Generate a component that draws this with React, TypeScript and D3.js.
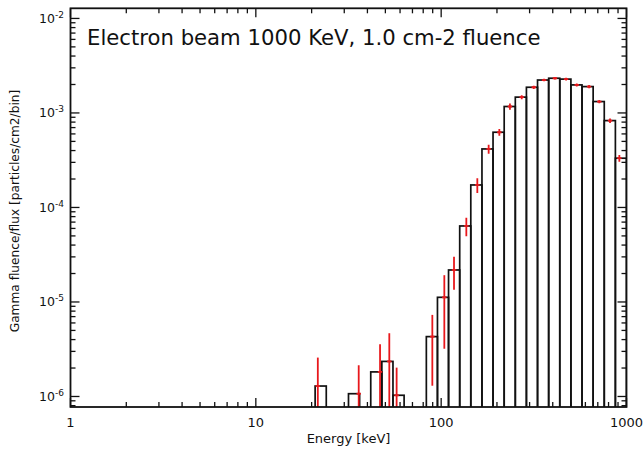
import React from "react";
import * as d3 from "d3";

// Histogram bins (keV) with non-zero content
const binLow = [20.89, 31.62, 41.69, 47.86, 54.95, 83.18, 95.5, 109.6, 125.9, 144.5, 166.0, 190.5, 218.8, 251.2, 288.4, 331.1, 380.2, 436.5, 501.2, 575.4, 660.7, 758.6, 871.0];
const binHigh = [23.99, 36.31, 47.86, 54.95, 63.1, 95.5, 109.6, 125.9, 144.5, 166.0, 190.5, 218.8, 251.2, 288.4, 331.1, 380.2, 436.5, 501.2, 575.4, 660.7, 758.6, 871.0, 1000];
// Gamma fluence per bin
const fluence = [1.29e-6, 1.07e-6, 1.82e-6, 2.35e-6, 1.03e-6, 4.3e-6, 1.12e-5, 2.18e-5, 6.37e-5, 1.73e-4, 4.16e-4, 6.25e-4, 1.17e-3, 1.47e-3, 1.87e-3, 2.23e-3, 2.33e-3, 2.28e-3, 1.98e-3, 1.9e-3, 1.32e-3, 8.3e-4, 3.32e-4];
// Error bar half-lengths
const fluenceErr = [1.29e-6, 1.07e-6, 1.74e-6, 2.32e-6, 0.99e-6, 3.0e-6, 8.0e-6, 8.3e-6, 1.4e-5, 3.1e-5, 4.5e-5, 5.3e-5, 9.0e-5, 7.0e-5, 7.5e-5, 7.0e-5, 7.0e-5, 7.0e-5, 7.0e-5, 7.0e-5, 5.3e-5, 4.5e-5, 2.7e-5];
// Mean energy of each bin, where the error bar sits (keV)
const meanEnergy = [21.6, 35.9, 46.8, 52.5, 57.5, 89.6, 104, 117.3, 136.7, 156.7, 180.4, 206, 235, 272, 316, 359, 411, 472, 539, 628, 713, 815, 915];

const xTickLabels = ["1", "10", "100", "1000"];
const xTickValues = [1, 10, 100, 1000];
const yTickExponents = ["-2", "-3", "-4", "-5", "-6"];
const yTickValues = [1e-2, 1e-3, 1e-4, 1e-5, 1e-6];

const title = "Electron beam 1000 KeV, 1.0 cm-2 fluence";
const xTitle = "Energy [keV]";
const yTitle = "Gamma fluence/flux [particles/cm2/bin]";

const W = 644;
const H = 452;
const left = 70.5;
const right = 626.5;
const top = 8.3;
const bottom = 407;
const FONT = "'DejaVu Sans', Verdana, sans-serif";

export default function App() {
  const x = d3.scaleLog().domain([1, 1000]).range([left, right]);
  const yMin = 7.74e-7;
  const y = d3.scaleLog().domain([yMin, 1.28e-2]).range([bottom, top]);

  const isMajor = (v: number) => Math.abs(Math.log10(v) - Math.round(Math.log10(v))) < 1e-9;
  const xTicks = x.ticks();
  const yTicks = y.ticks().filter((v) => v >= yMin && v <= 1.28e-2);
  const majorLen = 9;
  const minorLen = 5;
  const red = "#e8181c";

  return (
    <svg
      width={W}
      height={H}
      style={{ position: "absolute", left: 0, top: 0, display: "block", background: "#fff" }}
      fontFamily={FONT}
    >
      <defs>
        <clipPath id="plotclip">
          <rect x={left} y={top} width={right - left} height={bottom - top} />
        </clipPath>
      </defs>
      <rect x={0} y={0} width={W} height={H} fill="#fff" />
      <g clipPath="url(#plotclip)">
        {fluence.map((v, i) => (
          <rect
            key={"b" + i}
            x={x(binLow[i])}
            y={y(v)}
            width={x(binHigh[i]) - x(binLow[i])}
            height={bottom - y(v) + 3}
            fill="none"
            stroke="#111"
            strokeWidth={1.7}
          />
        ))}
        {fluence.map((v, i) => {
          const cx = x(meanEnergy[i]);
          const lo = Math.max(v - fluenceErr[i], yMin * 0.9);
          return (
            <g key={"e" + i} stroke={red} strokeWidth={1.8}>
              <line x1={cx} x2={cx} y1={y(v + fluenceErr[i])} y2={y(lo)} />
              <line x1={cx - 2.2} x2={cx + 2.2} y1={y(v)} y2={y(v)} />
            </g>
          );
        })}
      </g>
      {/* frame */}
      <rect x={left} y={top} width={right - left} height={bottom - top} fill="none" stroke="#111" strokeWidth={1.8} />
      {/* x ticks bottom and top */}
      {xTicks.map((t, i) => {
        const len = isMajor(t) ? majorLen : minorLen;
        const px = x(t);
        return (
          <g key={"xt" + i} stroke="#111" strokeWidth={1.3}>
            <line x1={px} x2={px} y1={bottom} y2={bottom - len} />
            <line x1={px} x2={px} y1={top} y2={top + len} />
          </g>
        );
      })}
      {/* y ticks left and right */}
      {yTicks.map((t, i) => {
        const len = isMajor(t) ? majorLen : minorLen;
        const py = y(t);
        return (
          <g key={"yt" + i} stroke="#111" strokeWidth={1.3}>
            <line x1={left} x2={left + len} y1={py} y2={py} />
            <line x1={right} x2={right - len} y1={py} y2={py} />
          </g>
        );
      })}
      {/* x tick labels */}
      {xTickValues.map((v, i) => (
        <text key={"xl" + i} x={x(v)} y={427} textAnchor="middle" fontSize={13} fill="#111">
          {xTickLabels[i]}
        </text>
      ))}
      {/* y tick labels */}
      {yTickValues.map((v, i) => (
        <text key={"yl" + i} x={64} y={y(v) + 4.5} textAnchor="end" fontSize={12.5} fill="#111">
          10
          <tspan fontSize={9} dy={-5}>
            {yTickExponents[i]}
          </tspan>
        </text>
      ))}
      {/* axis titles */}
      <text x={(left + right) / 2} y={443} textAnchor="middle" fontSize={13} fill="#111">
        {xTitle}
      </text>
      <text
        transform={`translate(18.5, 211) rotate(-90)`}
        textAnchor="middle"
        fontSize={12.2}
        fill="#111"
      >
        {yTitle}
      </text>
      {/* title */}
      <text x={87} y={45} fontSize={21.2} fill="#111">
        {title}
      </text>
    </svg>
  );
}
